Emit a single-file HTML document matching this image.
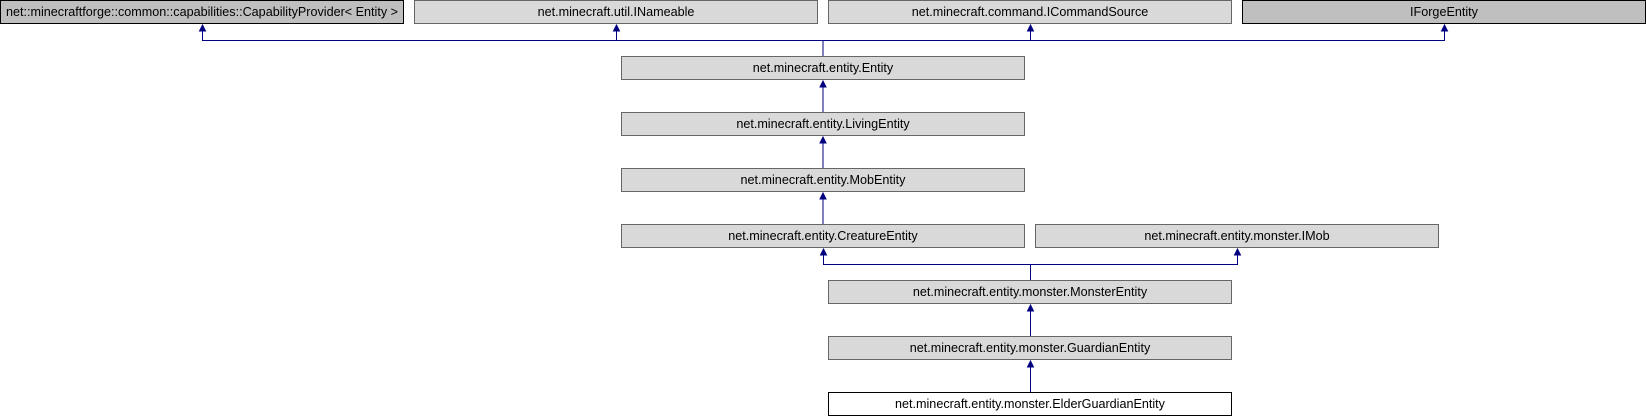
<!DOCTYPE html>
<html><head><meta charset="utf-8"><style>
html,body{margin:0;padding:0;background:#fff;width:1646px;height:416px;overflow:hidden}
text{font-family:"Liberation Sans",sans-serif;font-size:12.6px;fill:#000}
</style></head><body>
<svg width="1646" height="416" xmlns="http://www.w3.org/2000/svg">
<g fill="#d9d9d9" stroke="#666">
<rect x="0.5" y="0.5" width="403" height="23" fill="#bfbfbf" stroke="#000"/>
<rect x="414.5" y="0.5" width="403" height="23"/>
<rect x="828.5" y="0.5" width="403" height="23"/>
<rect x="1242.5" y="0.5" width="403" height="23" fill="#bfbfbf" stroke="#000"/>
<rect x="621.5" y="56.5" width="403" height="23"/>
<rect x="621.5" y="112.5" width="403" height="23"/>
<rect x="621.5" y="168.5" width="403" height="23"/>
<rect x="621.5" y="224.5" width="403" height="23"/>
<rect x="1035.5" y="224.5" width="403" height="23"/>
<rect x="828.5" y="280.5" width="403" height="23"/>
<rect x="828.5" y="336.5" width="403" height="23"/>
<rect x="828.5" y="392.5" width="403" height="23" fill="#fff" stroke="#000"/>
</g>
<g stroke="#000080" fill="none" stroke-width="1">
<path d="M823,56 V40.5 H202.5 V30"/>
<path d="M823,40.5 H1444.5 V30"/>
<path d="M616.5,40.5 V30"/>
<path d="M1030.5,40.5 V30"/>
<path d="M823,112 V86"/>
<path d="M823,168 V142"/>
<path d="M823,224 V198"/>
<path d="M1030.5,280 V264.5 H823.5 V254"/>
<path d="M1030.5,264.5 H1237.5 V254"/>
<path d="M1030.5,336 V310"/>
<path d="M1030.5,392 V366"/>
</g>
<g fill="#000080" stroke="#000080">
<path d="M202.5,25 L205.5,31 L199.5,31 Z"/>
<path d="M616.5,25 L619.5,31 L613.5,31 Z"/>
<path d="M1030.5,25 L1033.5,31 L1027.5,31 Z"/>
<path d="M1444.5,25 L1447.5,31 L1441.5,31 Z"/>
<path d="M823,81 L826,87 L820,87 Z"/>
<path d="M823,137 L826,143 L820,143 Z"/>
<path d="M823,193 L826,199 L820,199 Z"/>
<path d="M823.5,249 L826.5,255 L820.5,255 Z"/>
<path d="M1237.5,249 L1240.5,255 L1234.5,255 Z"/>
<path d="M1030.5,305 L1033.5,311 L1027.5,311 Z"/>
<path d="M1030.5,361 L1033.5,367 L1027.5,367 Z"/>
</g>
<g text-anchor="middle">
<text x="202" y="16">net::minecraftforge::common::capabilities::CapabilityProvider&lt; Entity &gt;</text>
<text x="616" y="16">net.minecraft.util.INameable</text>
<text x="1030" y="16">net.minecraft.command.ICommandSource</text>
<text x="1444" y="16">IForgeEntity</text>
<text x="823" y="72">net.minecraft.entity.Entity</text>
<text x="823" y="128">net.minecraft.entity.LivingEntity</text>
<text x="823" y="184">net.minecraft.entity.MobEntity</text>
<text x="823" y="240">net.minecraft.entity.CreatureEntity</text>
<text x="1237" y="240">net.minecraft.entity.monster.IMob</text>
<text x="1030" y="296">net.minecraft.entity.monster.MonsterEntity</text>
<text x="1030" y="352">net.minecraft.entity.monster.GuardianEntity</text>
<text x="1030" y="408">net.minecraft.entity.monster.ElderGuardianEntity</text>
</g>
</svg>
</body></html>
